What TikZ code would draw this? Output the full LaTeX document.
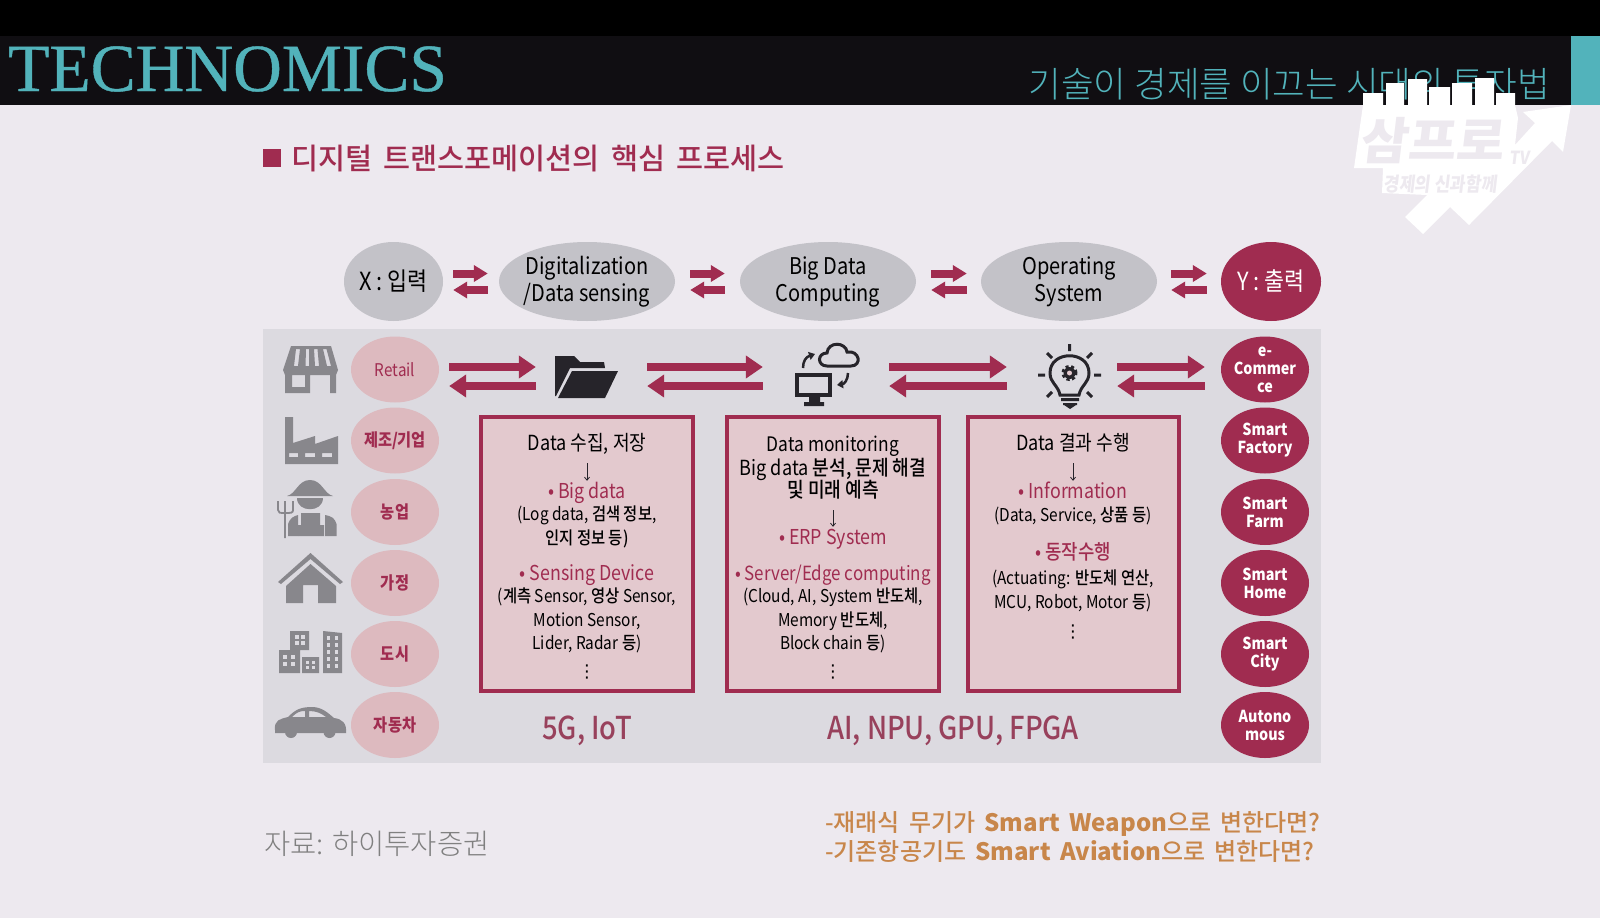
\documentclass[tikz,border=0pt]{standalone}
\usepackage{fontspec}
\setmainfont[FakeStretch=0.87]{Noto Sans CJK KR}
\newfontfamily\krthin{Noto Sans CJK KR Light}
\newfontfamily\krmed[FakeStretch=0.87]{Noto Sans CJK KR Medium}
\newfontfamily\krhead{Noto Sans CJK KR Medium}
\newfontfamily\krnote[WordSpace=1.7]{Noto Sans CJK KR Medium}
\newfontfamily\romanhead[FakeBold=0.6]{Liberation Serif}
\newfontfamily\symfont{DejaVu Sans}
\usetikzlibrary{arrows.meta,positioning,shapes.geometric,calc}
\definecolor{slidebg}{HTML}{EDE9EF}
\definecolor{bandbg}{HTML}{100E12}
\definecolor{tealc}{HTML}{52B3BB}
\definecolor{wine}{HTML}{A02C50}
\definecolor{panelc}{HTML}{DCDAE0}
\definecolor{greyov}{HTML}{C3C2C8}
\definecolor{pinkov}{HTML}{DDBABF}
\definecolor{boxc}{HTML}{E3C9CE}
\definecolor{iconc}{HTML}{88878C}
\definecolor{inkc}{HTML}{26242A}
\definecolor{notec}{RGB}{200,134,74}
\newcommand{\pk}[1]{\textcolor{wine}{\fontsize{20.5}{22}\selectfont #1}}
\newcommand{\bd}[1]{{\krmed #1}}
\newcommand{\vd}{{\symfont ⋮}}
\begin{document}
\begin{tikzpicture}[x=1pt,y=-1pt,
  every node/.style={inner sep=0pt,align=center},
  topov/.style={ellipse,inner sep=-20pt,fill=greyov,minimum width=176pt,minimum height=79pt,font=\fontsize{23}{27}\selectfont,text=black},
  twoline/.style={text height=46pt},
  endov/.style={font=\fontsize{25}{27}\selectfont},
  leftov/.style={ellipse,fill=pinkov,minimum width=88pt,minimum height=66pt,text=wine,font=\fontsize{17.5}{22}\selectfont},
  rightov/.style={ellipse,inner sep=-10pt,fill=wine,minimum width=88pt,minimum height=66pt,text=white,font=\bfseries\fontsize{16.5}{18}\selectfont},
  smallpair/.style={wine,line width=8pt,-{Triangle[length=14pt,width=16pt]}},
  bigpair/.style={wine,line width=8pt,-{Triangle[length=17pt,width=22pt]}},
  infobox/.style={draw=wine,line width=4pt,fill=boxc,minimum width=212pt,minimum height=274pt},
  boxline/.style={font=\fontsize{17.7}{22}\selectfont,text=black,text height=14pt,text depth=4pt,yshift=-2pt},
  boxhead/.style={boxline,font=\fontsize{20}{22}\selectfont},
  boxheadkr/.style={boxline,font=\fontsize{20.8}{22}\selectfont},
  downarr/.style={-{Straight Barb[length=3pt,width=5pt]},inkc,line width=.8pt,shorten <=9pt,shorten >=3pt},
  iconfill/.style={fill=iconc,draw=none},
  iconbox/.style={minimum width=64pt,minimum height=50pt},
  techlab/.style={text=wine!75!gray,font=\krmed\fontsize{31.5}{34}\selectfont},
  notelab/.style={text=notec,font=\krnote\fontsize{24}{30}\selectfont,anchor=west},
]
\useasboundingbox (0,0) rectangle (1600,918);
\fill[slidebg] (0,0) rectangle (1600,918);
\fill[bandbg] (0,36) rectangle (1600,105);
\fill[black] (0,0) rectangle (1600,36);
\fill[tealc] (1571,36) rectangle (1600,105);
\fill[panelc] (263,329) rectangle (1321,763);
% heading band
\node[text=tealc,font=\romanhead\fontsize{67.5}{70}\selectfont,anchor=west] (brand) at (8,69) {TECHNOMICS};
\node[text=tealc,font=\krthin\fontsize{35.5}{38}\selectfont,anchor=east] (subtitle) at (1550,84) {기술이 경제를 이끄는 시대의 투자법};
% channel mark
\fill[white] (1363,93) rectangle (1383,105) (1386,83) rectangle (1404,105) (1408,79) rectangle (1427,105)
  (1429,87) rectangle (1450,105) (1452,83) rectangle (1472,105) (1475,78) rectangle (1494,105) (1496,93) rectangle (1515,105);
\fill[white] (1571,105) -- (1563,152) -- (1552,141) -- (1469,225) -- (1450,207) -- (1423,234) -- (1405,217) -- (1427,195)
  -- (1382,193) -- (1383,168) -- (1354,168) -- (1363,105) -- (1515,105) -- (1518,118) -- (1515,145) -- (1535,123) -- (1523,112) -- cycle;
\node[text=slidebg,font=\bfseries\fontsize{50}{52}\selectfont,xslant=.12,xscale=1.2] (markname) at (1434,141) {삼프로};
\node[text=slidebg,font=\bfseries\fontsize{18}{18}\selectfont,xslant=.12] (marktv) at (1520,158) {TV};
\node[text=slidebg,font=\bfseries\fontsize{19.5}{20}\selectfont,xslant=.12] (marksub) at (1441,184) {경제의 신과함께};
% title
\fill[wine] (263,149) rectangle (281,167);
\node[text=wine,font=\krhead\fontsize{29.4}{34}\selectfont,anchor=west] (title) at (291,159) {디지털 트랜스포메이션의 핵심 프로세스};
% top row
\node[topov,endov,minimum width=99pt] (xin) at (393.5,281.5) {X : 입력};
\node[topov,twoline] (dig) at (587,281.5) {Digitalization\\/Data sensing};
\node[topov,twoline] (bigd) at (828,281.5) {Big Data\\Computing};
\node[topov,twoline] (opsys) at (1069,281.5) {Operating\\System};
\node[topov,endov,minimum width=100pt,fill=wine,text=white] (yout) at (1271,281.5) {Y : 출력};
\foreach \a/\b/\sa/\sb in {xin/dig/10/-11,dig/bigd/15/-15,bigd/opsys/15/-14,opsys/yout/14/-14} {
  \draw[smallpair] ([shift={(\sa,-8)}]\a.east) -- ([shift={(\sb,-8)}]\b.west);
  \draw[smallpair] ([shift={(\sb,8.5)}]\b.west) -- ([shift={(\sa,8.5)}]\a.east);
}
% left and right columns
\foreach \y/\t/\n in {369.5/Retail/retail,440.5/\textbf{제조/기업}/maker,512/\textbf{농업}/farm,583/\textbf{가정}/home,654/\textbf{도시}/city,725/\textbf{자동차}/auto}
  \node[leftov] (\n) at (395,\y) {\t};
\foreach \y/\t/\n in {369.5/{e-\\Commer\\ce}/ecom,440.5/{Smart\\Factory}/sfac,512/{Smart\\Farm}/sfarm,583/{Smart\\Home}/shome,654/{Smart\\City}/scity,725/{Autono\\mous}/sauto}
  \node[rightov] (\n) at (1265,\y) {\t};
% icons along the row
\node[iconbox] (folder) at (586.5,377) {};
\node[iconbox] (cloudpc) at (827,375) {};
\node[iconbox] (bulb) at (1069.5,376) {};
\coordinate (rowup) at (0,367);
\coordinate (rowdn) at (0,386);
\foreach \a/\b/\sa/\sb in {retail/folder/10/-18.5,folder/cloudpc/28.5/-32,cloudpc/bulb/30/-30.5,bulb/ecom/15.5/-16} {
  \coordinate (from) at ([xshift=\sa pt]\a.east);
  \coordinate (to) at ([xshift=\sb pt]\b.west);
  \draw[bigpair] (from |- rowup) -- (to |- rowup);
  \draw[bigpair] (to |- rowdn) -- (from |- rowdn);
}
% boxes
\node[infobox] (boxa) at (587,554) {};
\node[infobox] (boxb) at (833,554) {};
\node[infobox,minimum width=211pt] (boxc) at (1073.5,554) {};
\node[boxheadkr] (boxa1) at (587,443) {Data 수집, 저장};
\foreach \y/\t [count=\i from 2] in {491/{\pk{• Big data}},513/{(Log data, \bd{검색 정보},},537/{\bd{인지 정보 등)}},573/{\pk{• Sensing Device}},595/{(\bd{계측} Sensor, \bd{영상} Sensor,},619/{Motion Sensor,},642/{Lider, Radar \bd{등})},670/{\vd}}
  \node[boxline] (boxa\i) at (587,\y) {\t};
\node[boxhead] (boxb1) at (833,444) {Data monitoring};
\node[boxheadkr] (boxb2) at (833,468) {Big data \bd{분석, 문제 해결}};
\node[boxheadkr] (boxb3) at (833,490) {\bd{및 미래 예측}};
\foreach \y/\t [count=\i from 4] in {537/{\pk{• ERP System}},573/{\textcolor{wine}{\fontsize{19.5}{22}\selectfont • Server/Edge computing}},595/{(Cloud, AI, System \bd{반도체},},619/{Memory \bd{반도체},},642/{Block chain \bd{등})},670/{\vd}}
  \node[boxline] (boxb\i) at (833,\y) {\t};
\node[boxheadkr] (boxc1) at (1073,443) {Data 결과 수행};
\foreach \y/\t [count=\i from 2] in {491/{\pk{• Information}},514/{(Data, Service, \bd{상품 등})},552/{\pk{• \bd{동작수행}}},577/{(Actuating: \bd{반도체 연산},},601/{MCU, Robot, Motor \bd{등})},630/{\vd}}
  \node[boxline] (boxc\i) at (1073,\y) {\t};
\draw[downarr] (boxa1.south) -- (boxa2.north);
\draw[downarr] (boxb3.south) -- (boxb4.north);
\draw[downarr] (boxc1.south) -- (boxc2.north);
\node[techlab] (netlab) at (587,731) {5G, IoT};
\node[techlab] (chiplab) at (953,731) {AI, NPU, GPU, FPGA};
% store
\fill[iconfill,even odd rule] (291,346) -- (331,346) -- (338,370) -- (336,375) -- (336,393) -- (330,393) -- (330,375) -- (310,375) -- (310,393) -- (285,393) -- (285,375) -- (283,370) -- cycle
  (296,349) -- (294,366) -- (298,366) -- (300,349) -- cycle (306,349) -- (305.5,366) -- (309,366) -- (309,349) -- cycle
  (314,349) -- (315,366) -- (319,366) -- (317.5,349) -- cycle (323,349) -- (327,366) -- (331,366) -- (326.5,349) -- cycle
  (292,375) rectangle (305,387);
% factory
\fill[iconfill,even odd rule] (285,417) -- (293,417) -- (293,443) -- (315,436) -- (315,444) -- (338,436) -- (338,464) -- (285,464) -- cycle
  (289,453) rectangle (298,457) (305,453) rectangle (315,457) (322,453) rectangle (332,457);
% farmer
\fill[iconfill] (287,496) .. controls (296,494) and (298,480) .. (310,480) .. controls (322,480) and (324,494) .. (333,496) -- cycle;
\fill[iconfill] (297,498) -- (323,498) .. controls (323,513) and (297,513) .. (297,498) -- cycle;
\fill[iconfill] (288,536) -- (288,524) .. controls (290,518) and (294,516) .. (298,515) -- (298,536) -- cycle;
\fill[iconfill] (301,513) -- (320,513) -- (320,525) -- (324,525) -- (324,536) -- (298,536) -- (298,525) -- (301,525) -- cycle;
\fill[iconfill] (336.5,536) -- (336.5,524) .. controls (335,518) and (331,516) .. (325,515) -- (325,536) -- cycle;
\draw[iconc,line width=1.8pt] (278,501) -- (278,510) .. controls (278,513) and (280,513) .. (285,513) .. controls (291,513) and (293,513) .. (293,510) -- (293,501) (285,501) -- (285,538);
% house
\fill[iconfill] (310.5,553) -- (343,582) -- (340,584) -- (310.5,559) -- (281,584) -- (278,582) -- cycle;
\fill[iconfill] (310.5,564) -- (336,586) -- (336,603) -- (318,603) -- (318,585) -- (303,585) -- (303,603) -- (286,603) -- (286,586) -- cycle;
% city
\fill[iconfill] (290,631) rectangle (309,650) (279,650) rectangle (300,673) (302,657) rectangle (319,673) (323,631) -- (342,633) -- (342,673) -- (323,673) -- cycle;
\foreach \px in {295,301} \foreach \py in {635,641} \fill[panelc] (\px,\py) rectangle +(4,4);
\foreach \px in {283,291} \foreach \py in {655,662} \fill[panelc] (\px,\py) rectangle +(4,4);
\foreach \px in {306,312} \foreach \py in {661,666} \fill[panelc] (\px,\py) rectangle +(3,3);
\foreach \px in {327,335} \foreach \py in {636,643,650,657,664} \fill[panelc] (\px,\py) rectangle +(3,4);
% car
\fill[iconfill,even odd rule] (275,730) .. controls (274,720) and (280,719) .. (288,717) .. controls (295,710) and (300,707) .. (312,707) .. controls (322,707) and (328,713) .. (334,718) .. controls (342,719) and (347,723) .. (346,733) -- (275,733) -- cycle
  (292,717) .. controls (297,712) and (300,711) .. (305,711) -- (305,717) -- cycle
  (309,711) .. controls (316,711) and (321,713) .. (326,717) -- (309,717) -- cycle;
\fill[iconfill] (291,732) circle (6pt) (329.5,732) circle (6pt);
% folder
\fill[inkc] (555,396) -- (555,356) -- (574,356) -- (580,362) -- (604,362) -- (605,368) -- (570,368) -- (556,396) -- cycle;
\fill[inkc] (572,371) -- (618,371) -- (605,398) -- (558,398) -- cycle;
% monitor and cloud
\draw[inkc,line width=3.5pt] (797,375) rectangle (830,395);
\fill[inkc] (809,395) rectangle (820,403) (804,402) rectangle (824,406);
\draw[inkc,line width=3pt] (827,366) .. controls (817,366) and (817,353) .. (827,353) .. controls (828,341) and (846,342) .. (847,352) .. controls (860,350) and (862,366) .. (851,366) -- cycle;
\draw[inkc,line width=2.5pt,-{Triangle[length=6pt,width=8pt]}] (803,368) .. controls (803,361) and (806,357) .. (815,354);
\draw[inkc,line width=2.5pt,-{Triangle[length=6pt,width=8pt]}] (848,373) .. controls (848,380) and (844,384) .. (837,385);
% bulb
\draw[inkc,line width=3pt] (1060,395) .. controls (1058,385) and (1050,383) .. (1050,373) .. controls (1050,350) and (1089,350) .. (1089,373) .. controls (1089,383) and (1081,385) .. (1079,395) -- cycle;
\fill[inkc] (1061,398) rectangle (1079,401) (1063,403) rectangle (1077,405) (1064,405) -- (1076,405) -- (1070,409) -- cycle;
\fill[inkc] (1069.5,373) circle (6pt);
\draw[inkc,line width=3pt,dash pattern=on 3pt off 2.5pt] (1069.5,373) circle (6.5pt);
\fill[boxc] (1069.5,373) circle (2.5pt);
\draw[inkc,line width=3pt] (1069.5,344) -- (1069.5,351) (1038,375) -- (1045,375) (1094,375) -- (1101,375)
  (1047,353) -- (1052,358) (1092,353) -- (1087,358) (1047,397) -- (1052,392) (1092,397) -- (1087,392);
% source and remarks
\node[text=gray,font=\krthin\fontsize{28.5}{30}\selectfont,anchor=west] (source) at (264,844) {자료: 하이투자증권};
\node[notelab] (remarka) at (825,823.5) {-재래식 무기가 \textbf{Smart Weapon}으로 변한다면?};
\node[notelab] (remarkb) at (825,851.5) {-기존항공기도 \textbf{Smart Aviation}으로 변한다면?};
\end{tikzpicture}
\end{document}
